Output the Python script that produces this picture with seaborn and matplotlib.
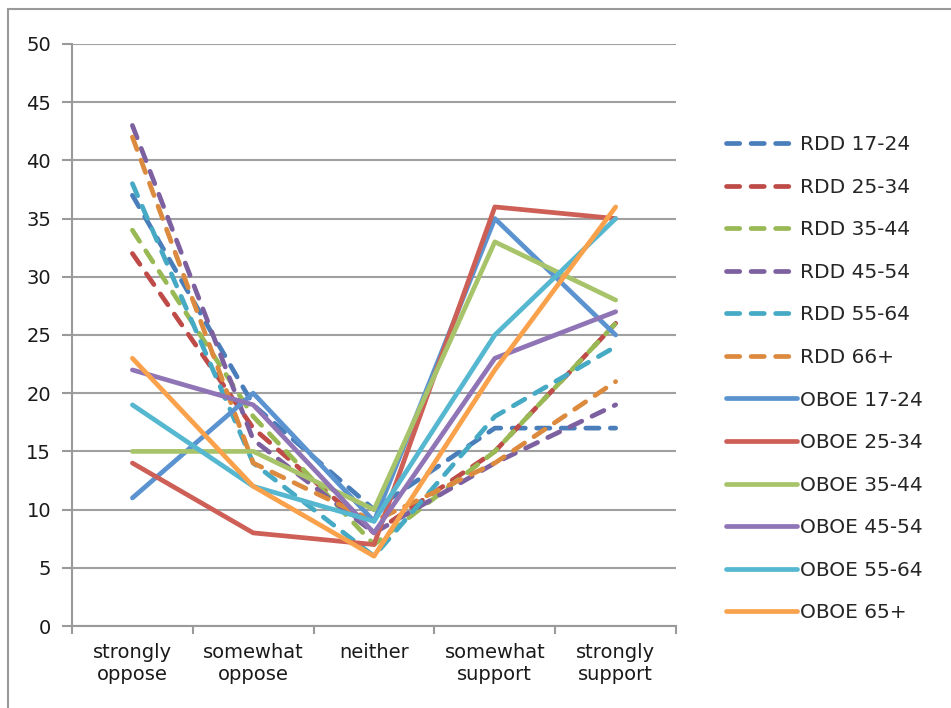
import seaborn as sns
import pandas as pd
import matplotlib.pyplot as plt
from matplotlib.patches import Rectangle

categories = ['strongly\noppose', 'somewhat\noppose', 'neither', 'somewhat\nsupport', 'strongly\nsupport']

rdd_labels = ['RDD 17-24', 'RDD 25-34', 'RDD 35-44', 'RDD 45-54', 'RDD 55-64', 'RDD 66+']
rdd_values = [
    [37, 19, 10, 17, 17],
    [32, 17, 8, 15, 26],
    [34, 18, 7, 15, 26],
    [43, 16, 8, 14, 19],
    [38, 14, 6, 18, 24],
    [42, 14, 9, 14, 21],
]
rdd_colors = ['#4A7EBB', '#BE4B48', '#98B954', '#7D60A0', '#46AAC5', '#DB8A3E']

oboe_labels = ['OBOE 17-24', 'OBOE 25-34', 'OBOE 35-44', 'OBOE 45-54', 'OBOE 55-64', 'OBOE 65+']
oboe_values = [
    [11, 20, 9, 35, 25],
    [14, 8, 7, 36, 35],
    [15, 15, 10, 33, 28],
    [22, 19, 8, 23, 27],
    [19, 12, 9, 25, 35],
    [23, 12, 6, 22, 36],
]
oboe_colors = ['#5B93D0', '#CD5F56', '#A8C46A', '#8F74B6', '#56B7D1', '#F9A14B']

sns.set_theme(style="white")
plt.rcParams['font.family'] = ['DejaVu Sans']

fig = plt.figure(figsize=(9.51, 7.08), dpi=100)
ax = fig.add_axes([0.0757, 0.1158, 0.6352, 0.8221])

# outer chart frame (only top and left visible in the reference)
fig.patches.append(Rectangle((8 / 951, -0.1), 1.2, 1.1 - 9 / 708,
                             transform=fig.transFigure, fill=False,
                             edgecolor='#9A9A9A', linewidth=1.5, zorder=0))

lw = 3.4
for lab, vals, col in zip(rdd_labels, rdd_values, rdd_colors):
    df = pd.DataFrame({'cat': categories, 'val': vals})
    sns.lineplot(data=df, x='cat', y='val', ax=ax, color=col, linewidth=lw,
                 label=lab, sort=False)
    line = ax.lines[-1]
    line.set_dashes((2.8, 2.4))
    line.set_dash_capstyle('round')

for lab, vals, col in zip(oboe_labels, oboe_values, oboe_colors):
    df = pd.DataFrame({'cat': categories, 'val': vals})
    sns.lineplot(data=df, x='cat', y='val', ax=ax, color=col, linewidth=lw,
                 label=lab, sort=False)
    ax.lines[-1].set_solid_capstyle('round')

ax.set_xlim(-0.5, 4.5)
ax.set_ylim(0, 50)
ax.set_yticks(range(0, 51, 5))
ax.set_xticks(range(5))
ax.set_xticklabels(categories, fontsize=14, color='#1A1A1A', linespacing=1.25)
ax.tick_params(axis='y', labelsize=14, labelcolor='#1A1A1A', length=7, width=1.5,
               color='#9A9A9A', direction='out', left=True, pad=8)
ax.tick_params(axis='x', length=0, pad=12)
# category boundary ticks
ax.set_xticks([-0.5, 0.5, 1.5, 2.5, 3.5, 4.5], minor=True)
ax.tick_params(axis='x', which='minor', length=6, width=1.5, color='#9A9A9A', bottom=True)

ax.grid(axis='y', color='#A0A0A0', linewidth=1.5)
ax.set_axisbelow(True)
ax.set_xlabel('')
ax.set_ylabel('')
for side in ['top', 'right']:
    ax.spines[side].set_visible(False)
for side in ['left', 'bottom']:
    ax.spines[side].set_color('#9A9A9A')
    ax.spines[side].set_linewidth(1.5)

ax.legend(loc='upper left', bbox_to_anchor=(708 / 951, 1 - 117 / 708),
          bbox_transform=fig.transFigure, frameon=False, fontsize=14.5,
          handlelength=3.5, handletextpad=0.15, labelspacing=1.17)

plt.savefig('out.png', dpi=100)
